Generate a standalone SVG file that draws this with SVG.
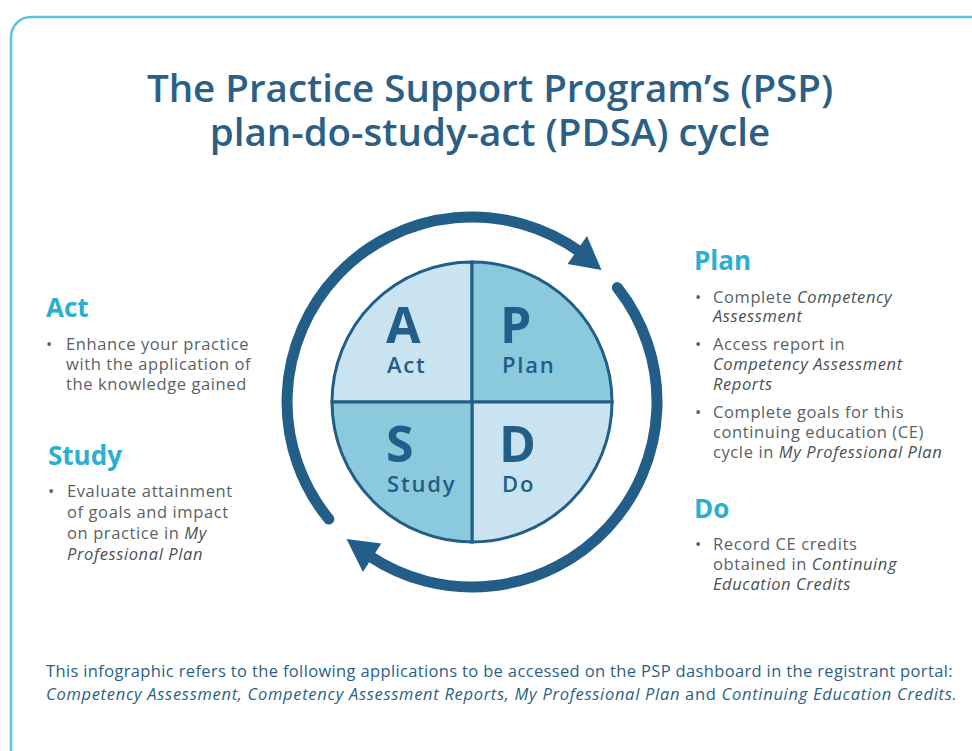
<svg xmlns="http://www.w3.org/2000/svg" width="972" height="751" viewBox="0 0 972 751">
<style>
.title{font-family:"Open Sans",Lato,sans-serif;font-weight:600;font-size:38.5px;fill:#2b5f85;text-anchor:middle}
.head{font-family:"Open Sans",Lato,sans-serif;font-weight:700;font-size:26px;fill:#2aafd1}
.body{font-family:"Open Sans",Lato,sans-serif;font-size:16.5px;fill:#5a5f62;letter-spacing:0.6px}
.it{font-style:italic;fill:#4a5053}
.big{font-family:"Open Sans",Lato,sans-serif;font-weight:700;font-size:50px;fill:#225e87}
.lbl{font-family:"Open Sans",Lato,sans-serif;font-weight:600;font-size:22px;fill:#225e87;letter-spacing:1.8px}
.foot{font-family:"Open Sans",Lato,sans-serif;font-size:16.5px;fill:#2b5f85}
.arc{fill:none;stroke:#225e87;stroke-width:11;stroke-linecap:round}
.q{stroke:#225e87;stroke-width:3}
</style>
<rect x="0" y="0" width="972" height="751" fill="#ffffff"/>
<rect x="11" y="17" width="1000" height="800" rx="20" fill="#ffffff" stroke="#5bc3d6" stroke-width="2.5"/>
<g id="title">
<text class="title" x="490" y="102">The Practice Support Program’s (PSP)</text>
<text class="title" x="490" y="146">plan-do-study-act (PDSA) cycle</text>
</g>
<g id="connectors">
<path class="arc" d="M328.8,519.1 A185,185 0 0 1 580.7,252.3"/>
<polygon points="587,236 567.6,263.9 601.5,270" fill="#225e87"/>
<path class="arc" d="M617.4,287.6 A185,185 0 0 1 368.6,555.4"/>
<polygon points="362.9,572 381.3,543.4 346.5,539" fill="#225e87"/>
</g>
<g id="cycle">
<path id="q-act" class="q" d="M472,402 L332,402 A140,140 0 0 1 472,262 Z" fill="#c9e4f0"/>
<path id="q-plan" class="q" d="M472,402 L472,262 A140,140 0 0 1 612,402 Z" fill="#8bcadd"/>
<path id="q-do" class="q" d="M472,402 L612,402 A140,140 0 0 1 472,542 Z" fill="#c9e4f0"/>
<path id="q-study" class="q" d="M472,402 L472,542 A140,140 0 0 1 332,402 Z" fill="#8bcadd"/>
<text class="big" x="386" y="343">A</text>
<text class="lbl" x="387" y="373">Act</text>
<text class="big" x="500" y="343">P</text>
<text class="lbl" x="502" y="373">Plan</text>
<text class="big" x="386" y="462">S</text>
<text class="lbl" x="387" y="492">Study</text>
<text class="big" x="499" y="462">D</text>
<text class="lbl" x="502" y="492">Do</text>
</g>
<g id="act-text">
<text class="head" x="46" y="317">Act</text>
<text class="body" x="46" y="350">•</text>
<text class="body" x="66" y="350">Enhance your practice</text>
<text class="body" x="66" y="370">with the application of</text>
<text class="body" x="66" y="390">the knowledge gained</text>
</g>
<g id="study-text">
<text class="head" x="48" y="465">Study</text>
<text class="body" x="48" y="497">•</text>
<text class="body" x="67" y="497">Evaluate attainment</text>
<text class="body" x="67" y="518">of goals and impact</text>
<text class="body" x="67" y="539">on practice in <tspan class="it">My</tspan></text>
<text class="body" x="67" y="560"><tspan class="it">Professional Plan</tspan></text>
</g>
<g id="plan-text">
<text class="head" x="694" y="270">Plan</text>
<text class="body" x="695" y="303">•</text>
<text class="body" x="713" y="303">Complete <tspan class="it">Competency</tspan></text>
<text class="body" x="713" y="322"><tspan class="it">Assessment</tspan></text>
<text class="body" x="695" y="350">•</text>
<text class="body" x="713" y="350">Access report in</text>
<text class="body" x="713" y="370"><tspan class="it">Competency Assessment</tspan></text>
<text class="body" x="713" y="390"><tspan class="it">Reports</tspan></text>
<text class="body" x="695" y="418">•</text>
<text class="body" x="713" y="418">Complete goals for this</text>
<text class="body" x="713" y="438">continuing education (CE)</text>
<text class="body" x="713" y="458">cycle in <tspan class="it">My Professional Plan</tspan></text>
</g>
<g id="do-text">
<text class="head" x="694" y="518">Do</text>
<text class="body" x="695" y="550">•</text>
<text class="body" x="713" y="550">Record CE credits</text>
<text class="body" x="713" y="570">obtained in <tspan class="it">Continuing</tspan></text>
<text class="body" x="713" y="590"><tspan class="it">Education Credits</tspan></text>
</g>
<g id="footer">
<text class="foot" x="46" y="677" letter-spacing="0.35">This infographic refers to the following applications to be accessed on the PSP dashboard in the registrant portal:</text>
<text class="foot" x="46" y="700" letter-spacing="0.7"><tspan font-style="italic">Competency Assessment, Competency Assessment Reports, My Professional Plan</tspan> and <tspan font-style="italic">Continuing Education Credits.</tspan></text>
</g>
</svg>
